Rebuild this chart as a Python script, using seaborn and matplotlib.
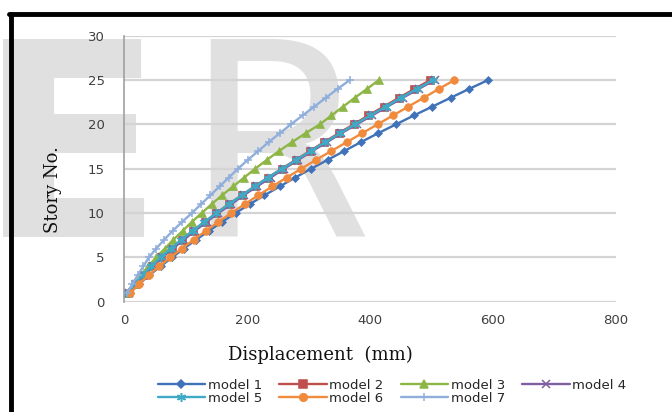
import matplotlib
matplotlib.use("Agg")
import matplotlib.pyplot as plt
import seaborn as sns
import pandas as pd
from matplotlib.lines import Line2D

stories = list(range(1, 26))
model_1 = [9, 24, 41, 59, 78, 97, 117, 138, 159, 181, 204, 228, 253, 278, 304, 331, 358, 385, 413, 442, 471, 501, 531, 561, 592]
model_2 = [2, 17, 31, 45, 60, 77, 94, 112, 131, 150, 170, 191, 212, 234, 256, 279, 302, 325, 349, 373, 397, 422, 447, 472, 498]
model_3 = [6, 16, 27, 39, 52, 66, 80, 95, 110, 126, 142, 159, 177, 195, 213, 232, 252, 273, 295, 318, 337, 356, 375, 395, 414]
model_4 = [8, 19, 32, 47, 62, 79, 97, 115, 134, 153, 174, 194, 216, 238, 260, 283, 306, 330, 353, 378, 403, 428, 453, 479, 505]
model_5 = [6, 17, 30, 44, 59, 76, 93, 111, 130, 150, 170, 191, 212, 234, 257, 280, 303, 327, 351, 375, 400, 425, 450, 476, 502]
model_6 = [10, 24, 40, 57, 75, 94, 113, 133, 153, 174, 196, 218, 241, 264, 288, 312, 337, 362, 387, 412, 437, 462, 487, 512, 537]
model_7 = [5, 13, 22, 31, 40, 52, 65, 79, 94, 110, 125, 140, 155, 170, 185, 201, 218, 235, 253, 271, 290, 309, 328, 347, 367]

names = ["model 1", "model 2", "model 3", "model 4", "model 5", "model 6", "model 7"]
series = [model_1, model_2, model_3, model_4, model_5, model_6, model_7]
colors = ["#3F72B8", "#C0504D", "#8DB646", "#7E5FA2", "#3FAAC6", "#F08A3C", "#8FAEDB"]
markers = ["D", "s", "^", "x", (6, 2, 0), "o", "+"]
msizes = [4, 5.5, 5.5, 5.5, 6.5, 5.5, 6]

x_ticks = [0, 200, 400, 600, 800]
y_ticks = [0, 5, 10, 15, 20, 25, 30]

sns.set_theme(style="white")
plt.rcParams["font.family"] = ["DejaVu Sans"]

fig = plt.figure(figsize=(6.72, 4.12), dpi=100)
fig.patch.set_facecolor("white")

# watermark letters
fig.text(-0.033, 1 - 237 / 412, "E", fontsize=196, color="#E0E0E0", zorder=0,
         ha="left", va="baseline", fontweight="bold")
fig.text(0.272, 1 - 237 / 412, "R", fontsize=196, color="#E0E0E0", zorder=0,
         ha="left", va="baseline")

ax = fig.add_axes([124.3 / 672, 1 - 301.7 / 412, (616 - 124.3) / 672, (301.7 - 35.7) / 412])
ax.patch.set_alpha(0)
ax.set_zorder(2)

for name, vals, c, m, ms in zip(names, series, colors, markers, msizes):
    df = pd.DataFrame({"Displacement": vals, "Story": stories})
    sns.lineplot(data=df, x="Displacement", y="Story", ax=ax, color=c, marker=m,
                 markersize=ms, linewidth=1.7, sort=False, label=name,
                 markeredgecolor=c, markeredgewidth=1.1 if m in ("x", "+") or isinstance(m, tuple) else 0.5)

ax.set_xlim(0, 800)
ax.set_ylim(0, 30)
ax.set_xticks(x_ticks)
ax.set_yticks(y_ticks)
ax.set_xticklabels([str(v) for v in x_ticks], fontsize=9.5, color="#404040")
ax.set_yticklabels([str(v) for v in y_ticks], fontsize=9.5, color="#404040")
ax.tick_params(axis="x", length=0, pad=9)
ax.tick_params(axis="y", length=0, pad=14)
ax.grid(axis="y", color="#D4D4D4", linewidth=1.6)
ax.grid(axis="x", visible=False)
for s in ["top", "right", "bottom"]:
    ax.spines[s].set_visible(False)
ax.spines["left"].set_color("#A0A0A0")
ax.spines["left"].set_linewidth(1.2)
ax.set_xlabel("")
ax.set_ylabel("")
ax.get_legend().remove()

fig.text(53 / 672, 1 - 190 / 412, "Story No.", rotation=90, ha="center", va="center",
         fontsize=13, family="DejaVu Serif", color="#111111")
fig.text(320 / 672, 1 - 355 / 412, "Displacement  (mm)", ha="center", va="center",
         fontsize=13, family="DejaVu Serif", color="#111111")

handles = [Line2D([0], [0], color=c, marker=m, markersize=ms, linewidth=1.7,
                  markeredgecolor=c, markeredgewidth=1.1)
           for c, m, ms in zip(colors, markers, msizes)]
order = [0, 4, 1, 5, 2, 6, 3]
fig.legend([handles[i] for i in order], [names[i] for i in order], ncol=4, loc="upper center",
           bbox_to_anchor=(392 / 672, 1 - 372 / 412),
           frameon=False, fontsize=9.5, handlelength=3.6, handletextpad=0.2,
           columnspacing=1.3, labelspacing=0.0, borderpad=0)

# black frame lines (top and left)
fig.add_artist(Line2D([9 / 672, 1.0], [1 - 14 / 412, 1 - 14 / 412], color="black",
                      linewidth=3.5, transform=fig.transFigure))
fig.add_artist(Line2D([11 / 672, 11 / 672], [0, 1 - 14 / 412], color="black",
                      linewidth=3.5, transform=fig.transFigure))

fig.savefig("out.png", dpi=100)
